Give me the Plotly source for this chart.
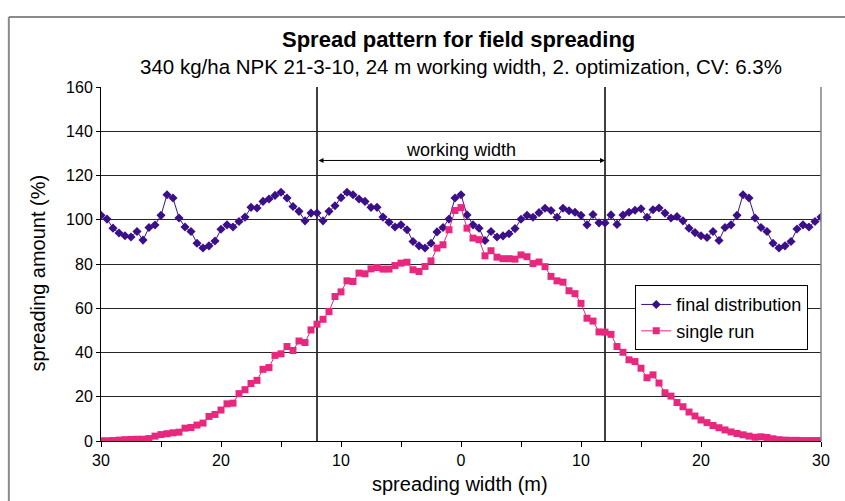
import plotly.graph_objects as go

x_pos = [-30.0, -29.5, -29.0, -28.5, -28.0, -27.5, -27.0, -26.5, -26.0, -25.5,
         -25.0, -24.5, -24.0, -23.5, -23.0, -22.5, -22.0, -21.5, -21.0, -20.5,
         -20.0, -19.5, -19.0, -18.5, -18.0, -17.5, -17.0, -16.5, -16.0, -15.5,
         -15.0, -14.5, -14.0, -13.5, -13.0, -12.5, -12.0, -11.5, -11.0, -10.5,
         -10.0, -9.5, -9.0, -8.5, -8.0, -7.5, -7.0, -6.5, -6.0, -5.5,
         -5.0, -4.5, -4.0, -3.5, -3.0, -2.5, -2.0, -1.5, -1.0, -0.5,
         0.0, 0.5, 1.0, 1.5, 2.0, 2.5, 3.0, 3.5, 4.0, 4.5,
         5.0, 5.5, 6.0, 6.5, 7.0, 7.5, 8.0, 8.5, 9.0, 9.5,
         10.0, 10.5, 11.0, 11.5, 12.0, 12.5, 13.0, 13.5, 14.0, 14.5,
         15.0, 15.5, 16.0, 16.5, 17.0, 17.5, 18.0, 18.5, 19.0, 19.5,
         20.0, 20.5, 21.0, 21.5, 22.0, 22.5, 23.0, 23.5, 24.0, 24.5,
         25.0, 25.5, 26.0, 26.5, 27.0, 27.5, 28.0, 28.5, 29.0, 29.5, 30.0]

final_distribution = [
    102.0, 100.3, 96.2, 94.0, 92.8, 92.2, 94.7, 90.8, 96.5, 97.6,
    102.0, 111.3, 109.8, 100.8, 96.7, 94.7, 89.4, 87.2, 88.2, 90.4,
    95.7, 97.7, 96.7, 99.2, 101.2, 105.6, 105.3, 108.3, 109.4, 111.0,
    112.4, 109.8, 106.0, 103.8, 99.5, 103.0, 103.0, 99.5, 103.8, 106.3,
    110.0, 112.4, 111.3, 109.4, 108.3, 105.6, 105.6, 101.2, 98.9, 96.7,
    97.7, 95.5, 90.2, 88.2, 87.2, 89.4, 94.5, 96.5, 100.3, 109.8,
    111.3, 102.2, 97.7, 96.2, 90.6, 94.7, 92.2, 92.7, 93.7, 96.0,
    100.2, 102.0, 101.1, 103.2, 105.2, 104.2, 101.1, 105.2, 104.1, 103.4,
    102.0, 97.7, 102.4, 98.6, 98.5, 102.2, 97.9, 102.1, 103.4, 104.3,
    105.0, 101.1, 104.5, 105.3, 103.0, 100.8, 101.5, 99.5, 96.2, 94.2,
    92.8, 92.0, 94.7, 90.6, 96.5, 97.7, 102.0, 111.3, 109.8, 100.8,
    96.5, 94.7, 89.4, 87.2, 88.2, 90.2, 95.8, 97.7, 96.7, 99.2, 101.2]

single_run = [
    0.1, 0.1, 0.2, 0.4, 0.6, 0.7, 0.8, 0.8, 1.1, 2.2,
    2.9, 3.3, 3.7, 4.0, 5.8, 6.1, 7.2, 8.1, 11.1, 12.0,
    14.0, 16.8, 17.1, 21.4, 23.2, 26.0, 27.4, 32.4, 33.2, 38.7,
    39.4, 42.7, 40.9, 45.2, 44.5, 50.2, 52.8, 55.0, 58.5, 65.3,
    67.4, 72.4, 72.1, 75.9, 75.6, 77.8, 78.4, 77.7, 77.7, 79.3,
    80.4, 80.8, 77.4, 76.6, 78.9, 81.4, 87.2, 88.7, 95.5, 104.2,
    105.5, 96.2, 91.7, 91.0, 83.7, 86.0, 83.1, 82.4, 82.4, 82.2,
    84.1, 83.3, 80.2, 80.9, 78.8, 74.4, 72.4, 71.8, 67.9, 66.6,
    62.2, 55.5, 54.2, 49.3, 49.2, 48.2, 42.7, 40.1, 36.7, 35.9,
    32.9, 28.6, 29.9, 26.2, 21.8, 20.3, 17.4, 15.5, 13.1, 11.3,
    9.5, 8.3, 7.0, 6.0, 5.0, 4.1, 3.4, 2.8, 2.2, 1.7,
    1.9, 1.6, 1.0, 0.6, 0.4, 0.3, 0.3, 0.2, 0.2, 0.2, 0.2]

x_tick_vals = [-30, -20, -10, 0, 10, 20, 30]
x_tick_text = ["30", "20", "10", "0", "10", "20", "30"]
y_tick_vals = [0, 20, 40, 60, 80, 100, 120, 140, 160]
working_width_edges = [-12, 12]

PURPLE = "#3b0f87"
PINK = "#e8287f"
FONT = "Liberation Sans, Arial, Helvetica, sans-serif"

fig = go.Figure()
fig.add_trace(go.Scatter(
    x=x_pos, y=final_distribution, mode="lines+markers", name="final distribution",
    line=dict(color=PURPLE, width=1),
    marker=dict(symbol="diamond", size=7, color=PURPLE),
))
fig.add_trace(go.Scatter(
    x=x_pos, y=single_run, mode="lines+markers", name="single run",
    line=dict(color=PINK, width=1),
    marker=dict(symbol="square", size=7, color=PINK),
))

# working width vertical lines
for xv in working_width_edges:
    fig.add_shape(type="line", xref="x", yref="y", x0=xv, x1=xv, y0=0, y1=160,
                  line=dict(color="black", width=1.5), layer="below")

# right border of plot area
fig.add_shape(type="line", xref="paper", yref="paper", x0=1, x1=1, y0=0, y1=1,
              line=dict(color="#808080", width=1.5))

# outer chart frame (top and left edges visible in the picture)
fig.add_shape(type="line", xref="paper", yref="paper",
              x0=-0.128, x1=1.1, y0=1.198, y1=1.198,
              line=dict(color="#8a8a8a", width=2))
fig.add_shape(type="line", xref="paper", yref="paper",
              x0=-0.128, x1=-0.128, y0=-0.3, y1=1.198,
              line=dict(color="#8a8a8a", width=2))

# double arrow for working width
fig.add_annotation(x=working_width_edges[1], y=126.8, ax=working_width_edges[0], ay=126.8,
                   xref="x", yref="y", axref="x", ayref="y", text="",
                   showarrow=True, arrowhead=2, arrowside="end+start",
                   arrowsize=1, arrowwidth=1, arrowcolor="black")
fig.add_annotation(x=0, y=131.7, xref="x", yref="y", text="working width",
                   showarrow=False, font=dict(size=18, color="black", family=FONT),
                   xanchor="center", yanchor="middle")

# titles
fig.add_annotation(x=0.497, y=1.133, xref="paper", yref="paper",
                   text="<b>Spread pattern for field spreading</b>", showarrow=False,
                   xanchor="center", yanchor="middle",
                   font=dict(size=22, color="black", family=FONT))
fig.add_annotation(x=0.5, y=1.059, xref="paper", yref="paper",
                   text="340 kg/ha NPK 21-3-10, 24 m working width, 2. optimization, CV: 6.3%",
                   showarrow=False, xanchor="center", yanchor="middle",
                   font=dict(size=20.5, color="black", family=FONT))

# axis titles
fig.add_annotation(x=0.499, y=-0.121, xref="paper", yref="paper",
                   text="spreading width (m)", showarrow=False,
                   xanchor="center", yanchor="middle",
                   font=dict(size=20, color="black", family=FONT))
fig.add_annotation(x=-0.0875, y=0.473, xref="paper", yref="paper",
                   text="spreading amount (%)", showarrow=False, textangle=-90,
                   xanchor="center", yanchor="middle",
                   font=dict(size=20, color="black", family=FONT))

fig.update_layout(
    width=845, height=501,
    margin=dict(l=101, r=24, t=87, b=60),
    paper_bgcolor="white", plot_bgcolor="white",
    font=dict(family=FONT, color="black"),
    showlegend=True,
    legend=dict(x=0.742, y=0.44, xanchor="left", yanchor="top",
                bgcolor="white", bordercolor="black", borderwidth=1,
                font=dict(size=18, family=FONT), tracegroupgap=0),
    xaxis=dict(range=[-30, 30], tickvals=x_tick_vals, ticktext=x_tick_text,
               ticks="outside", ticklen=5, tickcolor="black",
               minor=dict(ticks="outside", dtick=5, ticklen=5, tickcolor="black", showgrid=False),
               showgrid=False, zeroline=False, showline=True, linecolor="black", linewidth=1,
               tickfont=dict(size=16, family=FONT)),
    yaxis=dict(range=[0, 160], tickvals=y_tick_vals,
               ticks="outside", ticklen=4, tickcolor="black",
               showgrid=True, gridcolor="#262626", gridwidth=1, zeroline=False,
               showline=True, linecolor="black", linewidth=1,
               tickfont=dict(size=16, family=FONT)),
)

fig.write_html("out.html", config={"displayModeBar": False},
               post_script="document.body.style.margin='0';")
